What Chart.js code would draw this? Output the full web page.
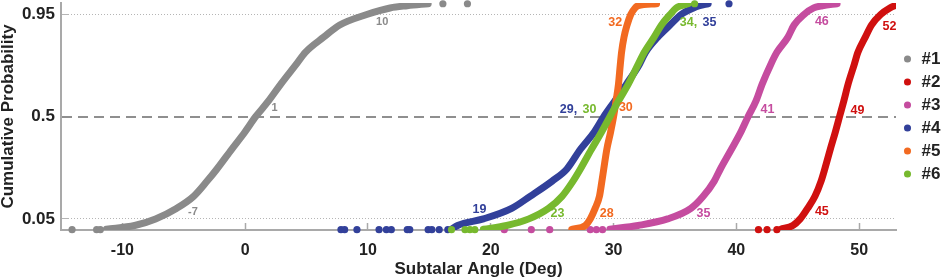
<!DOCTYPE html>
<html><head><meta charset="utf-8">
<script src="https://cdn.jsdelivr.net/npm/chart.js@4/dist/chart.umd.min.js"></script>
<style>html,body{margin:0;padding:0;background:#fff}canvas{display:block}</style>
</head><body>
<canvas id="c" width="941" height="280"></canvas>
<script>
// ---- data ----
const seriesNames = ['#1', '#2', '#3', '#4', '#5', '#6'];
const seriesColors = ['#8a8a8a', '#d0100f', '#c54c9f', '#32409a', '#f26a21', '#77b92e'];

// cumulative probability levels at which each curve's angle was read
const probLevels = [0.035, 0.04, 0.05, 0.07, 0.1, 0.15, 0.2, 0.3, 0.4, 0.5, 0.6, 0.7, 0.8, 0.85, 0.9, 0.93, 0.95, 0.96, 0.963, 0.9655];

const angles1 = [-11.3, -9.0, -7.3, -5.6, -4.2, -3.1, -2.3, -1.1, -0.05, 0.85, 1.9, 2.9, 4.15, 4.9, 6.4, 7.7, 9.9, 11.8, 13.2, 14.9];
const angles2 = [43.6, 44.6, 45.2, 45.8, 46.4, 46.9, 47.2, 47.65, 48.05, 48.4, 48.75, 49.1, 49.6, 49.9, 50.5, 51.0, 51.75, 52.5, 52.9, 53.4];
const angles3 = [29.7, 32.0, 34.4, 36.3, 37.3, 38.2, 38.7, 39.6, 40.35, 40.95, 41.6, 42.1, 42.8, 43.3, 44.2, 44.7, 45.5, 46.3, 47.0, 48.2];
const angles4 = [16.8, 17.3, 19.4, 21.7, 23.2, 25.0, 26.2, 27.3, 28.4, 29.2, 30.1, 31.05, 32.1, 32.6, 33.6, 34.6, 35.5, 36.5, 37.0, 37.7];
const angles5 = [26.6, 27.7, 28.1, 28.5, 28.85, 29.05, 29.2, 29.45, 29.75, 30.0, 30.2, 30.4, 30.55, 30.65, 30.85, 31.1, 31.4, 31.75, 32.0, 33.5];
const angles6 = [19.4, 21.3, 23.1, 24.7, 25.8, 26.7, 27.3, 28.2, 29.0, 29.7, 30.4, 31.2, 32.0, 32.5, 33.3, 33.9, 34.6, 35.1, 35.5, 36.1];

// isolated extreme samples sitting on the lower / upper edge of the plot
const lowTail1 = [-14.1, -12.1, -11.8];
const highTail1 = [16.1, 18.1];
const lowTail2 = [41.8, 42.5, 43.3];
const highTail2 = [];
const lowTail3 = [21.1, 23.3, 24.8, 28.1, 28.6, 29.1];
const highTail3 = [];
const lowTail4 = [7.8, 8.1, 9.1, 10.9, 11.5, 11.9, 13.2, 13.4, 14.9, 15.2, 15.8, 16.5];
const highTail4 = [39.4];
const lowTail5 = [];
const highTail5 = [];
const lowTail6 = [16.8, 17.9, 18.3, 18.7];
const highTail6 = [36.6];
const edgeLowProb = 0.0345;
const edgeHighProb = 0.9655;

const yTickProbs = [0.05, 0.5, 0.95];
const yTickLabels = ['0.05', '0.5', '0.95'];
const yRangeProbs = [0.0341, 0.9664];
const xTicks = [-10, 0, 10, 20, 30, 40, 50];
const xRange = [-15, 53];

// quantile annotations: text, series index, angle, probability
const qlText   = ['-7', '1', '10', '45', '49', '52', '35', '41', '46', '19', '29,', '35', '28', '30', '32', '23', '30', '34,'];
const qlSeries = [0, 0, 0, 1, 1, 1, 2, 2, 2, 3, 3, 3, 4, 4, 4, 5, 5, 5];
const qlAngle  = [-4.26, 2.39, 11.16, 46.96, 49.86, 52.47, 37.32, 42.53, 46.96, 19.08, 26.33, 37.81, 29.45, 31.0, 30.13, 25.43, 28.04, 36.1];
const qlProb   = [0.063, 0.554, 0.936, 0.063, 0.538, 0.926, 0.060, 0.547, 0.937, 0.068, 0.547, 0.935, 0.060, 0.560, 0.935, 0.0586, 0.547, 0.935];

// ---- normal probability scale transform ----
function probit(p) {
  const a = [-3.969683028665376e+01, 2.209460984245205e+02, -2.759285104469687e+02, 1.383577518672690e+02, -3.066479806614716e+01, 2.506628277459239e+00];
  const b = [-5.447609879822406e+01, 1.615858368580409e+02, -1.556989798598866e+02, 6.680131188771972e+01, -1.328068155288572e+01];
  const c = [-7.784894002430293e-03, -3.223964580411365e-01, -2.400758277161838e+00, -2.549732539343734e+00, 4.374664141464968e+00, 2.938163982698783e+00];
  const d = [7.784695709041462e-03, 3.224671290700398e-01, 2.445134137142996e+00, 3.754408661907416e+00];
  const pl = 0.02425;
  if (p < pl) { const q = Math.sqrt(-2 * Math.log(p)); return (((((c[0]*q+c[1])*q+c[2])*q+c[3])*q+c[4])*q+c[5]) / ((((d[0]*q+d[1])*q+d[2])*q+d[3])*q+1); }
  if (p > 1 - pl) { const q = Math.sqrt(-2 * Math.log(1 - p)); return -(((((c[0]*q+c[1])*q+c[2])*q+c[3])*q+c[4])*q+c[5]) / ((((d[0]*q+d[1])*q+d[2])*q+d[3])*q+1); }
  const q = p - 0.5, r = q * q;
  return (((((a[0]*r+a[1])*r+a[2])*r+a[3])*r+a[4])*r+a[5])*q / (((((b[0]*r+b[1])*r+b[2])*r+b[3])*r+b[4])*r+1);
}

const allAngles = [angles1, angles2, angles3, angles4, angles5, angles6];
const allLow = [lowTail1, lowTail2, lowTail3, lowTail4, lowTail5, lowTail6];
const allHigh = [highTail1, highTail2, highTail3, highTail4, highTail5, highTail6];

const datasets = [];
seriesNames.forEach((name, i) => {
  datasets.push({
    label: name,
    data: allAngles[i].map((a, k) => ({ x: a, y: probit(probLevels[k]) })),
    showLine: true,
    borderColor: seriesColors[i],
    backgroundColor: seriesColors[i],
    borderWidth: 7,
    borderCapStyle: 'round',
    borderJoinStyle: 'round',
    cubicInterpolationMode: 'monotone',
    pointRadius: 0,
    pointHoverRadius: 0,
    order: 20 - 2 * i
  });
});
seriesNames.forEach((name, i) => {
  const pts = allLow[i].map(a => ({ x: a, y: probit(edgeLowProb) }))
    .concat(allHigh[i].map(a => ({ x: a, y: probit(edgeHighProb) })));
  datasets.push({
    label: '',
    isTail: true,
    data: pts,
    showLine: false,
    backgroundColor: seriesColors[i],
    borderColor: seriesColors[i],
    pointRadius: 3.6,
    pointBorderWidth: 0,
    pointHoverRadius: 3.6,
    clip: false,
    order: 19 - 2 * i
  });
});

const FONT = "'Liberation Sans', Arial, sans-serif";

const quantileLabelPlugin = {
  id: 'quantileLabels',
  afterDatasetsDraw(chart) {
    const { ctx, scales: { x, y } } = chart;
    ctx.save();
    ctx.textAlign = 'center';
    ctx.textBaseline = 'middle';
    qlText.forEach((t, k) => {
      const s = qlSeries[k];
      ctx.font = s === 0 ? `bold 11px ${FONT}` : `bold 12.5px ${FONT}`;
      ctx.fillStyle = seriesColors[s];
      ctx.fillText(t, x.getPixelForValue(qlAngle[k]), y.getPixelForValue(probit(qlProb[k])));
    });
    ctx.restore();
  }
};

const axisGrey = '#a9a9a9';

new Chart(document.getElementById('c'), {
  type: 'scatter',
  data: { datasets },
  options: {
    responsive: false,
    animation: false,
    devicePixelRatio: 1,
    layout: { autoPadding: false, padding: { top: 3, left: 0, right: 0, bottom: 0 } },
    plugins: {
      tooltip: { enabled: false },
      legend: {
        position: 'right',
        align: 'center',
        fullSize: false,
        maxWidth: 45,
        labels: {
          usePointStyle: true,
          pointStyle: 'circle',
          boxWidth: 11,
          boxHeight: 5,
          padding: 6,
          color: '#222',
          font: { family: FONT, size: 17, weight: 'bold' },
          filter: (item, data) => !data.datasets[item.datasetIndex].isTail,
          sort: (a, b) => a.datasetIndex - b.datasetIndex,
          generateLabels: (chart) => Chart.defaults.plugins.legend.labels.generateLabels(chart)
            .map(it => Object.assign(it, { lineWidth: 0, strokeStyle: it.fillStyle, pointStyle: 'circle' }))
        }
      }
    },
    scales: {
      x: {
        type: 'linear',
        min: xRange[0],
        max: xRange[1],
        afterBuildTicks: s => { s.ticks = xTicks.map(v => ({ value: v })); },
        afterFit: s => { s.height = 50; s.paddingLeft = 0; s.paddingRight = 0; s.paddingTop = 0; s.paddingBottom = 0; },
        grid: { drawOnChartArea: false, drawTicks: true, tickLength: -7, tickColor: axisGrey, tickWidth: 1.5 },
        border: { color: axisGrey, width: 2 },
        ticks: { color: '#222', padding: 18, font: { family: FONT, size: 16, weight: 'bold' } },
        title: { display: true, text: 'Subtalar Angle (Deg)', color: '#222', padding: { top: 0, bottom: 0 }, font: { family: FONT, size: 17, weight: 'bold' } }
      },
      y: {
        type: 'linear',
        min: probit(yRangeProbs[0]),
        max: probit(yRangeProbs[1]),
        afterBuildTicks: s => { s.ticks = yTickProbs.map(p => ({ value: probit(p) })); },
        afterFit: s => { s.width = 61; s.paddingTop = 0; s.paddingBottom = 0; s.paddingLeft = 0; s.paddingRight = 0; },
        grid: {
          drawOnChartArea: true,
          drawTicks: true,
          tickLength: -7,
          color: ctx => (ctx.tick && Math.abs(ctx.tick.value) < 1e-9) ? '#8f8f8f' : '#b5b5b5',
          lineWidth: ctx => (ctx.tick && Math.abs(ctx.tick.value) < 1e-9) ? 2 : 1,
          tickColor: ctx => (ctx.tick && Math.abs(ctx.tick.value) < 1e-9) ? '#8f8f8f' : '#b5b5b5',
          tickWidth: ctx => (ctx.tick && Math.abs(ctx.tick.value) < 1e-9) ? 2 : 1,
          tickBorderDash: []
        },
        border: {
          color: axisGrey,
          width: 2,
          dash: ctx => ctx.tick ? (Math.abs(ctx.tick.value) < 1e-9 ? [10, 6] : [1, 2]) : []
        },
        ticks: {
          color: '#222',
          padding: 13,
          font: { family: FONT, size: 17, weight: 'bold' },
          callback: (v, i) => yTickLabels[i]
        },
        title: { display: true, text: 'Cumulative Probability', color: '#222', padding: 0, font: { family: FONT, size: 17, weight: 'bold', lineHeight: 1 } }
      }
    }
  },
  plugins: [quantileLabelPlugin]
});
</script>
</body></html>
